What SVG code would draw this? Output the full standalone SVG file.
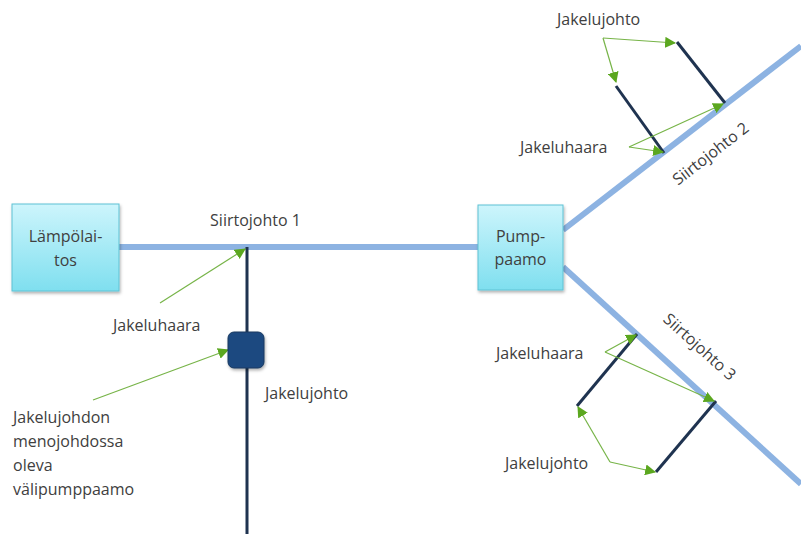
<svg xmlns="http://www.w3.org/2000/svg" width="801" height="534" viewBox="0 0 801 534">
<style>
text{font-family:"Open Sans","Liberation Sans",sans-serif;font-size:16px;fill:#404040}
.main{stroke:#8db3e2;stroke-width:6;fill:none}
.dist{stroke:#1f3350;stroke-width:3;fill:none}
.ptr{stroke:#77b448;stroke-width:1.2;fill:none;marker-end:url(#ah)}
.box{fill:url(#cy);stroke:#5ec2d4;stroke-width:1;filter:url(#sh)}
</style>
<defs>
<linearGradient id="cy" x1="0" y1="0" x2="0" y2="1"><stop offset="0" stop-color="#cdf5fc"/><stop offset="1" stop-color="#7fdfef"/></linearGradient>
<filter id="sh" x="-20%" y="-20%" width="150%" height="150%"><feDropShadow dx="1" dy="2" stdDeviation="1.5" flood-color="#000" flood-opacity="0.3"/></filter>
<marker id="ah" viewBox="0 0 10 10" refX="9" refY="5" markerWidth="11" markerHeight="11" markerUnits="userSpaceOnUse" orient="auto"><path d="M0,0 L10,5 L0,10 z" fill="#5ba71f"/></marker>
</defs>
<g id="connectors">
<line class="main" x1="119" y1="247" x2="478" y2="247"/>
<line class="main" x1="563" y1="230" x2="801" y2="46"/>
<line class="main" x1="563" y1="267" x2="801" y2="484"/>
<line class="dist" x1="247" y1="247" x2="247" y2="534"/>
<line class="dist" x1="664" y1="153" x2="616" y2="86"/>
<line class="dist" x1="725" y1="103" x2="677" y2="42"/>
<line class="dist" x1="637" y1="334" x2="577" y2="406"/>
<line class="dist" x1="716" y1="401" x2="656" y2="472"/>
<path class="ptr" d="M160,303 L245,249"/>
<path class="ptr" d="M93,400 L228,350"/>
<path class="ptr" d="M603,38 L675,43"/>
<path class="ptr" d="M603,38 L616,82"/>
<path class="ptr" d="M629,147 L663,152"/>
<path class="ptr" d="M629,147 L723,104"/>
<path class="ptr" d="M605,352 L636,335"/>
<path class="ptr" d="M605,352 L714,401"/>
<path class="ptr" d="M610,462 L578,407"/>
<path class="ptr" d="M610,462 L655,472"/>
</g>
<g id="lampolaitos">
<rect class="box" x="12" y="204" width="107" height="87"/>
<text x="65.5" y="242" text-anchor="middle">Lämpölai-</text>
<text x="65.5" y="266" text-anchor="middle">tos</text>
</g>
<g id="pumppaamo">
<rect class="box" x="478" y="205" width="85" height="85"/>
<text x="520.5" y="242" text-anchor="middle">Pump-</text>
<text x="520.5" y="265" text-anchor="middle">paamo</text>
</g>
<g id="valipumppaamo">
<rect x="228" y="332" width="36" height="36" rx="6" fill="#1e4a80" stroke="#16365f" stroke-width="1" filter="url(#sh)"/>
</g>
<g id="labels">
<text x="255.5" y="226" text-anchor="middle">Siirtojohto 1</text>
<text x="113" y="331">Jakeluhaara</text>
<text x="265" y="399">Jakelujohto</text>
<text x="13" y="423">Jakelujohdon</text>
<text x="13" y="447">menojohdossa</text>
<text x="13" y="471">oleva</text>
<text x="13" y="495">välipumppaamo</text>
<text x="557" y="25">Jakelujohto</text>
<text x="520" y="153">Jakeluhaara</text>
<text x="496" y="359">Jakeluhaara</text>
<text x="505" y="469">Jakelujohto</text>
<text transform="translate(714,158) rotate(-37.7)" text-anchor="middle">Siirtojohto 2</text>
<text transform="translate(696,351) rotate(42)" text-anchor="middle">Siirtojohto 3</text>
</g>
</svg>
